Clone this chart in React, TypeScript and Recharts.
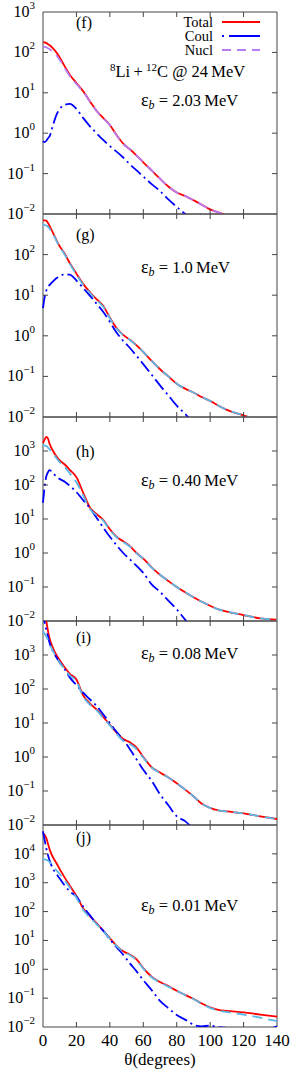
import React from 'react';
import { LineChart, Line, XAxis, YAxis, ReferenceArea, Legend } from 'recharts';

// ---------- data ----------
const theta = [0,1,2,3,4,6,8,10,13,16,20,24,28,32,36,40,44,48,52,56,60,65,70,75,80,85,90,95,100,105,110,120,130,140];
const xTicks = [0,20,40,60,80,100,120,140];

const totalF = [178,176,170,160,150,125,100,75,45,28,17.5,11,6.2,3.6,2.4,1.6,0.9,0.55,0.4,0.28,0.19,0.12,0.075,0.048,0.034,0.028,0.022,0.017,0.013,0.011,0.0088,0.005,0.003,0.002];
const coulF = [0.63,0.6,0.65,0.75,0.85,1.6,2.8,4.0,5.0,5.3,4.0,2.4,1.5,1.0,0.68,0.48,0.35,0.25,0.17,0.12,0.085,0.055,0.037,0.023,0.015,0.01,0.0065,0.0042,0.0027,0.0018,0.0012,0.0005,0.0002,0.0001];
const nuclF = [138,137,133,127,120,103,85,66,41,26,16.5,10.7,6.1,3.55,2.35,1.58,0.89,0.54,0.4,0.28,0.19,0.12,0.075,0.048,0.034,0.028,0.022,0.017,0.013,0.011,0.0088,0.005,0.003,0.002];

const totalG = [700,700,680,600,500,340,230,160,105,62,34,19,12,8,5.5,2.8,1.55,1.05,0.8,0.58,0.4,0.24,0.15,0.1,0.066,0.05,0.04,0.031,0.025,0.019,0.015,0.011,0.008,0.006];
const coulG = [4.8,9,13,16,18,22,26,29,33,32,23,15,9.8,6.2,3.9,2.2,1.2,0.75,0.5,0.32,0.2,0.11,0.06,0.034,0.019,0.012,0.007,0.0045,0.003,0.002,0.0012,0.0005,0.0002,0.0001];
const nuclG = [540,535,520,480,430,320,220,155,100,60,32,18,11.5,7.6,5.2,2.7,1.5,1.03,0.79,0.57,0.4,0.24,0.15,0.1,0.066,0.05,0.04,0.031,0.025,0.019,0.015,0.011,0.008,0.006];

const totalH = [1700,2200,2600,2300,1600,1000,700,530,400,280,170,60,22,14,9.5,5.0,3.0,2.2,1.6,1.0,0.68,0.38,0.23,0.15,0.1,0.07,0.05,0.037,0.028,0.022,0.019,0.015,0.012,0.011];
const coulH = [30,90,180,240,275,220,180,150,125,95,62,36,21,11,5.6,3.0,1.7,1.0,0.65,0.42,0.26,0.12,0.072,0.04,0.022,0.011,0.006,0.0033,0.0018,0.001,0.0006,0.0002,0.00007,0.00003];
const nuclH = [1500,1450,1400,1250,1100,850,620,470,340,220,120,50,20,13,9,4.8,2.9,2.1,1.55,0.98,0.67,0.37,0.23,0.15,0.1,0.07,0.05,0.037,0.028,0.022,0.019,0.015,0.012,0.011];

const totalI = [30000,20000,10000,5000,3000,1600,1000,700,430,280,190,65,38,25,15,9,5.2,3.4,2.7,1.9,1.0,0.5,0.35,0.25,0.17,0.11,0.07,0.042,0.032,0.027,0.025,0.022,0.018,0.015];
const coulI = [20000,9000,5500,3500,2200,1300,850,600,380,220,130,78,50,32,18,10,5.5,3.2,1.7,0.85,0.42,0.2,0.08,0.038,0.018,0.013,0.0075,0.004,0.002,0.001,0.0006,0.0002,0.00006,0.00002];
const nuclI = [5000,4200,3500,2800,2100,1300,850,600,380,250,170,60,35,24,14,8.5,4.8,3.0,2.4,1.7,0.95,0.49,0.34,0.25,0.17,0.11,0.07,0.042,0.032,0.027,0.025,0.022,0.018,0.015];

const totalJ = [52000,45000,35000,22000,14000,7500,4800,3000,1500,800,350,130,70,40,22,12,6.5,4.2,3.2,2.2,1.1,0.55,0.36,0.26,0.18,0.13,0.095,0.065,0.048,0.039,0.036,0.032,0.027,0.023];
const coulJ = [60000,30000,15000,9000,5800,3000,2000,1400,800,500,330,150,75,38,22,11,5.8,3.2,1.6,0.85,0.42,0.19,0.08,0.045,0.026,0.018,0.012,0.0105,0.0112,0.0098,0.0093,0.0085,0.0075,0.0105];
const nuclJ = [6500,6400,6200,5800,5200,3700,2700,2000,1200,700,300,115,62,37,21,11.5,6.3,4.1,3.1,2.1,1.05,0.53,0.35,0.25,0.18,0.13,0.093,0.064,0.046,0.037,0.033,0.027,0.021,0.016];

const ticks3 = [0.01,0.1,1,10,100,1000];
const ticks4 = [0.01,0.1,1,10,100,1000,10000];
const ticks5 = [0.01,0.1,1,10,100,1000,10000,100000];

const panelLabels = ['(f)','(g)','(h)','(i)','(j)'];
const energies = ['2.03','1.0','0.40','0.08','0.01'];
const legendNames = ['Total','Coul','Nucl'];
const xTitle = 'θ(degrees)';

// ---------- layout ----------
const FONT = '"Liberation Serif", "Times New Roman", serif';
const W = 291;
const PL = 43;
const PR = 277;
const MT = 12;
const FRAME = '#444';
const RED = '#ff0000';
const BLUE = '#0000ff';
const NUCL_F = '#b57cf5';
const NUCL = '#5cb6e6';
const COUL_DASH = '13 4 2 4';
const NUCL_DASH = '10 6';

const build = (t: number[], c: number[], n: number[]) => theta.map((th, i) => ({ th, total: t[i], coul: c[i], nucl: n[i] }));

const panels = [
  { top: 12, bottom: 214, ticks: ticks3, data: build(totalF, coulF, nuclF), nucl: NUCL_F, hideTop: false, last: false, ann: 100, lab: 23 },
  { top: 214, bottom: 417, ticks: ticks3, data: build(totalG, coulG, nuclG), nucl: NUCL, hideTop: true, last: false, ann: 267, lab: 235 },
  { top: 417, bottom: 621, ticks: ticks4, data: build(totalH, coulH, nuclH), nucl: NUCL, hideTop: true, last: false, ann: 480, lab: 452 },
  { top: 621, bottom: 825, ticks: ticks4, data: build(totalI, coulI, nuclI), nucl: NUCL, hideTop: true, last: false, ann: 653, lab: 638 },
  { top: 825, bottom: 1027, ticks: ticks5, data: build(totalJ, coulJ, nuclJ), nucl: NUCL, hideTop: true, last: true, ann: 905, lab: 838 },
];

const YTick = (props: any) => {
  const { y, payload, hideTop, maxVal } = props;
  const v = payload.value;
  const exp = Math.round(Math.log10(v));
  const isTop = Math.abs(v - maxVal) < 1e-9 * maxVal;
  const isEdge = isTop || exp === -2;
  return (
    <g>
      {!isEdge && <line x1={PL} x2={PL + 5} y1={y} y2={y} stroke={FRAME} />}
      {!isEdge && <line x1={PR - 5} x2={PR} y1={y} y2={y} stroke={FRAME} />}
      {!(isTop && hideTop) && (
        <text x={PL - 8} y={y + 5} textAnchor="end" fontSize={16} fontFamily={FONT} fill="#000">
          10
          <tspan dy={-8} fontSize={11}>{exp < 0 ? '\u2212' + -exp : String(exp)}</tspan>
        </text>
      )}
    </g>
  );
};

const XTick = (props: any) => {
  const { x, plotTop, plotBottom, showLabel, payload } = props;
  const edge = payload.value === 0 || payload.value === 140;
  return (
    <g>
      {!edge && <line x1={x} x2={x} y1={plotBottom} y2={plotBottom - 5} stroke={FRAME} />}
      {!edge && <line x1={x} x2={x} y1={plotTop} y2={plotTop + 5} stroke={FRAME} />}
      {showLabel && (
        <text x={x} y={plotBottom + 19} textAnchor="middle" fontSize={17} fontFamily={FONT} fill="#000">
          {payload.value}
        </text>
      )}
    </g>
  );
};

const LegendBox = () => {
  const rows = [
    { name: legendNames[0], color: RED, dash: undefined },
    { name: legendNames[1], color: BLUE, dash: '2 5 30 0' },
    { name: legendNames[2], color: NUCL_F, dash: '9 6' },
  ];
  return (
    <div style={{ fontFamily: FONT, fontSize: 14.5, lineHeight: '14px' }}>
      {rows.map((r) => (
        <div key={r.name} style={{ display: 'flex', alignItems: 'center', height: 14 }}>
          <span style={{ width: 63, textAlign: 'right', display: 'inline-block', lineHeight: '13px' }}>{r.name}</span>
          <svg width={48} height={10} style={{ marginLeft: 9 }}>
            <line x1={0} x2={38} y1={5} y2={5} stroke={r.color} strokeWidth={1.8} strokeDasharray={r.dash} />
          </svg>
        </div>
      ))}
    </div>
  );
};

const Eps = ({ e }: { e: string }) => (
  <span>
    <span style={{ fontSize: 18 }}>ε</span>
    <sub style={{ fontStyle: 'italic', fontSize: 12, verticalAlign: 'baseline', position: 'relative', top: 3 }}>b</sub>
    {' = '}{e}&thinsp;MeV
  </span>
);

export default function App() {
  return (
    <div style={{ position: 'absolute', left: 0, top: 0, width: W, height: 1071, background: '#fff', fontFamily: FONT }}>
      {panels.map((p, idx) => {
        const plotH = p.bottom - p.top;
        const xh = p.last ? 30 : 2;
        const mb = p.last ? 4 : 10;
        const h = plotH + MT + mb + xh;
        const maxVal = p.ticks[p.ticks.length - 1];
        return (
          <div key={idx} style={{ position: 'absolute', left: 0, top: p.top - MT, width: W, height: h }}>
            <LineChart width={W} height={h} data={p.data} margin={{ top: MT, right: W - PR, bottom: mb, left: 0 }}>
              <XAxis
                dataKey="th"
                type="number"
                domain={[0, 140]}
                ticks={xTicks}
                height={xh}
                axisLine={false}
                tickLine={false}
                interval={0}
                tick={(tp: any) => <XTick {...tp} plotTop={MT} plotBottom={MT + plotH} showLabel={p.last} />}
              />
              <YAxis
                type="number"
                scale="log"
                domain={[0.01, maxVal]}
                allowDataOverflow
                ticks={p.ticks}
                width={PL}
                axisLine={false}
                tickLine={false}
                interval={0}
                tick={(tp: any) => <YTick {...tp} hideTop={p.hideTop} maxVal={maxVal} />}
              />
              <ReferenceArea x1={0} x2={140} y1={0.01} y2={maxVal} fill="none" stroke={FRAME} strokeWidth={1} ifOverflow="visible" />
              <Line type="monotone" dataKey="total" stroke={RED} strokeWidth={1.8} dot={false} isAnimationActive={false} />
              <Line type="monotone" dataKey="coul" stroke={BLUE} strokeWidth={1.8} strokeDasharray={COUL_DASH} dot={false} isAnimationActive={false} />
              <Line type="monotone" dataKey="nucl" stroke={p.nucl} strokeWidth={1.8} strokeDasharray={NUCL_DASH} dot={false} isAnimationActive={false} />
              {idx === 0 && (
                <Legend
                  layout="horizontal"
                  verticalAlign="middle"
                  align="center"
                  content={() => <LegendBox />}
                  wrapperStyle={{ top: 15, left: 150, width: 130, height: 42 }}
                />
              )}
            </LineChart>
          </div>
        );
      })}
      <div style={{ position: 'absolute', left: PL, width: PR - PL, top: 1050, fontSize: 17, lineHeight: '20px', textAlign: 'center' }}>
        {xTitle}
      </div>
      {panels.map((p, idx) => (
        <div key={'lab' + idx} style={{ position: 'absolute', left: 76, top: p.lab - 10, fontSize: 16, lineHeight: '20px' }}>
          {panelLabels[idx]}
        </div>
      ))}
      <div style={{ position: 'absolute', left: 110, top: 62, fontSize: 16.5, lineHeight: '20px', whiteSpace: 'nowrap' }}>
        <sup style={{ fontSize: 11, verticalAlign: 'baseline', position: 'relative', top: -6 }}>8</sup>Li&thinsp;+&thinsp;
        <sup style={{ fontSize: 11, verticalAlign: 'baseline', position: 'relative', top: -6 }}>12</sup>C @ 24&thinsp;MeV
      </div>
      {panels.map((p, idx) => (
        <div key={'e' + idx} style={{ position: 'absolute', left: 141, top: p.ann - 10, fontSize: 16.5, lineHeight: '20px', whiteSpace: 'nowrap' }}>
          <Eps e={energies[idx]} />
        </div>
      ))}
    </div>
  );
}
